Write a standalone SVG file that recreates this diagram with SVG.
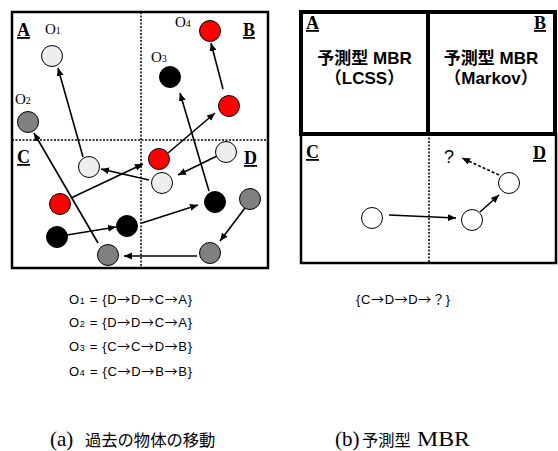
<svg xmlns="http://www.w3.org/2000/svg" width="558" height="451" viewBox="0 0 558 451">
<style>
.frame{fill:none;stroke:#000;stroke-width:2.5}
.thick{fill:none;stroke:#000;stroke-width:4}
.dash{fill:none;stroke:#000;stroke-width:1.5;stroke-dasharray:2 1.5}
.c{stroke:#000;stroke-width:1}
.lg{fill:#eeeeee}.gr{fill:#808080}.bk{fill:#000}.rd{fill:#ff0000}.wh{fill:#fff}
.arr{stroke:#000;stroke-width:1.6;fill:none;marker-end:url(#ah)}
.arrd{stroke:#000;stroke-width:1.6;fill:none;stroke-dasharray:3 2;marker-end:url(#ah)}
.reg{font-family:"Liberation Serif","Times New Roman",serif;font-weight:bold;font-size:18px;text-decoration:underline}
.ol{font-family:"Liberation Serif","Times New Roman",serif;font-size:15px}
.sub{font-size:10px}
.mbr{font-family:"Liberation Sans",Arial,"Noto Sans CJK JP",sans-serif;font-weight:bold;font-size:17px}
.seq{font-family:"Liberation Sans",Arial,"Noto Sans CJK JP",sans-serif;font-size:13px}
.seqs{font-size:9px}
.ar{font-family:"Noto Sans CJK JP",sans-serif}
.cap{font-family:"Liberation Serif","Times New Roman","Noto Sans CJK JP",serif;font-size:21px}
.cj{font-family:"Noto Sans CJK JP",sans-serif;font-size:16.3px}
</style>
<defs>
<marker id="ah" markerUnits="userSpaceOnUse" markerWidth="9" markerHeight="8" refX="8" refY="3.5" orient="auto">
<path d="M0,0 L8,3.5 L0,7 Z" fill="#000"/>
</marker>
</defs>

<g id="panel-a">
<rect class="frame" x="12" y="12" width="256" height="256"/>
<line class="dash" x1="141" y1="12" x2="141" y2="268"/>
<line class="dash" x1="12" y1="140" x2="268" y2="140"/>
<text class="reg" x="17" y="36">A</text>
<text class="reg" x="243" y="36">B</text>
<text class="reg" x="17" y="163">C</text>
<text class="reg" x="244" y="164">D</text>
</g>

<g id="connectors-a">
<line class="arr" x1="217" y1="156" x2="178" y2="175"/>
<line class="arr" x1="149" y1="180" x2="101" y2="169"/>
<line class="arr" x1="83" y1="157" x2="58" y2="68"/>
<line class="arr" x1="245" y1="208" x2="220" y2="241"/>
<line class="arr" x1="197" y1="256" x2="124" y2="256"/>
<line class="arr" x1="98" y1="243" x2="34" y2="133"/>
<line class="arr" x1="67" y1="235" x2="116" y2="227"/>
<line class="arr" x1="142" y1="223" x2="198" y2="205"/>
<line class="arr" x1="209" y1="191" x2="180" y2="93"/>
<line class="arr" x1="71" y1="198" x2="143" y2="164"/>
<line class="arr" x1="168" y1="153" x2="215" y2="113"/>
<line class="arr" x1="223" y1="89" x2="211" y2="43"/>
</g>

<g id="o1">
<circle class="c lg" cx="52" cy="56" r="10.5"/>
<text class="ol" x="45" y="34">O<tspan class="sub">1</tspan></text>
</g>
<g id="o2">
<circle class="c gr" cx="28" cy="122" r="10.5"/>
<text class="ol" x="15" y="104">O<tspan class="sub">2</tspan></text>
</g>
<g id="o3">
<circle class="c bk" cx="170" cy="77" r="10.5"/>
<text class="ol" x="151" y="62">O<tspan class="sub">3</tspan></text>
</g>
<g id="o4">
<circle class="c rd" cx="210" cy="31" r="10.5"/>
<text class="ol" x="175" y="27">O<tspan class="sub">4</tspan></text>
</g>
<g id="o4-p3"><circle class="c rd" cx="229" cy="106" r="10.5"/></g>
<g id="o1-p3"><circle class="c lg" cx="89" cy="167" r="10.5"/></g>
<g id="o4-p2"><circle class="c rd" cx="159" cy="159" r="10.5"/></g>
<g id="o1-p1"><circle class="c lg" cx="226" cy="152" r="10.5"/></g>
<g id="o1-p2"><circle class="c lg" cx="162" cy="183" r="10.5"/></g>
<g id="o4-p1"><circle class="c rd" cx="60" cy="204" r="10.5"/></g>
<g id="o3-p3"><circle class="c bk" cx="215" cy="202" r="10.5"/></g>
<g id="o2-p1"><circle class="c gr" cx="250" cy="199" r="10.5"/></g>
<g id="o3-p2"><circle class="c bk" cx="127" cy="226" r="10.5"/></g>
<g id="o3-p1"><circle class="c bk" cx="57" cy="237" r="10.5"/></g>
<g id="o2-p3"><circle class="c gr" cx="108" cy="255" r="10.5"/></g>
<g id="o2-p2"><circle class="c gr" cx="210" cy="253" r="10.5"/></g>

<g id="sequences">
<text class="seq" x="69" y="304" textLength="123" lengthAdjust="spacing">O<tspan class="seqs">1</tspan> = {D<tspan class="ar">→</tspan>D<tspan class="ar">→</tspan>C<tspan class="ar">→</tspan>A}</text>
<text class="seq" x="69" y="327" textLength="123" lengthAdjust="spacing">O<tspan class="seqs">2</tspan> = {D<tspan class="ar">→</tspan>D<tspan class="ar">→</tspan>C<tspan class="ar">→</tspan>A}</text>
<text class="seq" x="69" y="351" textLength="123" lengthAdjust="spacing">O<tspan class="seqs">3</tspan> = {C<tspan class="ar">→</tspan>C<tspan class="ar">→</tspan>D<tspan class="ar">→</tspan>B}</text>
<text class="seq" x="69" y="376" textLength="123" lengthAdjust="spacing">O<tspan class="seqs">4</tspan> = {C<tspan class="ar">→</tspan>D<tspan class="ar">→</tspan>B<tspan class="ar">→</tspan>B}</text>
</g>

<g id="panel-b">
<rect class="frame" x="301" y="134" width="255" height="129"/>
<line class="dash" x1="429" y1="134" x2="429" y2="263"/>
<text class="reg" x="306" y="158">C</text>
<text class="reg" x="533" y="159">D</text>
</g>
<g id="box-a">
<rect class="thick" x="301" y="12" width="127" height="122"/>
<text class="reg" x="306" y="29">A</text>
<text class="mbr" x="364.5" y="64" text-anchor="middle">予測型 MBR</text>
<text class="mbr" x="364.5" y="84" text-anchor="middle">（LCSS）</text>
</g>
<g id="box-b">
<rect class="thick" x="428" y="12" width="127" height="122"/>
<text class="reg" x="534" y="29">B</text>
<text class="mbr" x="491" y="64" text-anchor="middle">予測型 MBR</text>
<text class="mbr" x="491" y="84" text-anchor="middle">（Markov）</text>
</g>

<g id="connectors-b">
<line class="arr" x1="389" y1="215" x2="456" y2="218"/>
<line class="arr" x1="480" y1="212" x2="499" y2="195"/>
<line class="arrd" x1="499" y1="175" x2="462" y2="158"/>
</g>
<g id="p1"><circle class="c wh" cx="372" cy="218" r="10.5"/></g>
<g id="p2"><circle class="c wh" cx="472" cy="220" r="10.5"/></g>
<g id="p3"><circle class="c wh" cx="509" cy="183" r="10.5"/></g>
<g id="unknown"><text x="449" y="163" text-anchor="middle" style="font-family:'Liberation Sans',Arial,sans-serif;font-size:18px">?</text></g>

<text class="seq" x="356" y="304" textLength="94" lengthAdjust="spacing">{C<tspan class="ar">→</tspan>D<tspan class="ar">→</tspan>D<tspan class="ar">→</tspan>？}</text>

<text class="cap" x="50" y="446">(a) <tspan class="cj" x="85">過去の物体の移動</tspan></text>
<text class="cap" x="335" y="446">(b) <tspan class="cj" x="362">予測型</tspan><tspan x="417" textLength="53" lengthAdjust="spacingAndGlyphs">MBR</tspan></text>
</svg>
